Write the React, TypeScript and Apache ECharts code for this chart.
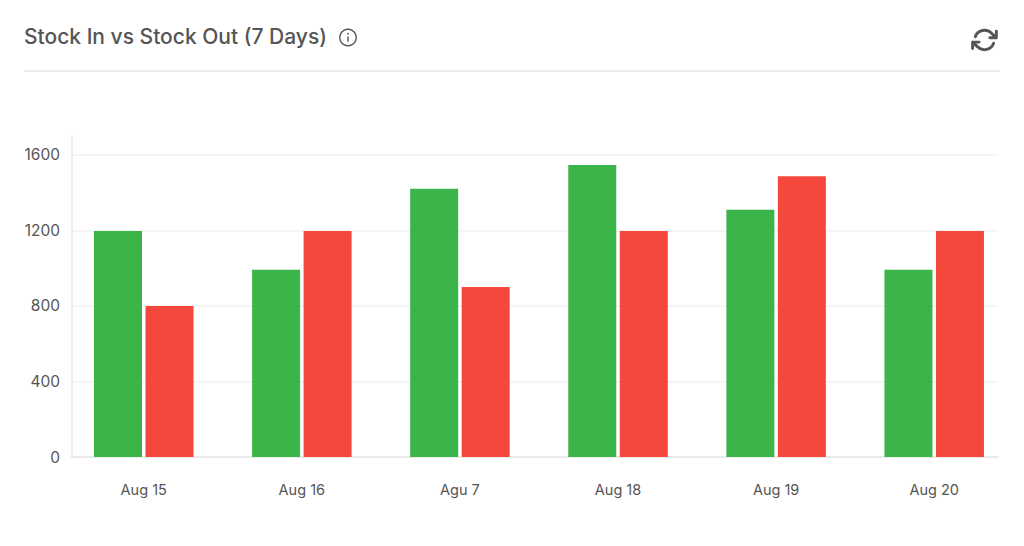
import React, { useEffect, useRef } from "react";
import * as echarts from "echarts";

const categories = ["Aug 15", "Aug 16", "Agu 7", "Aug 18", "Aug 19", "Aug 20"];
const stockIn = [1197, 992, 1420, 1547, 1310, 992];
const stockOut = [800, 1197, 900, 1197, 1487, 1197];
const yTicks = [0, 400, 800, 1200, 1600];
const titleText = "Stock In vs Stock Out (7 Days)";

const FONT = "Inter, 'Noto Sans', sans-serif";

echarts.graphic.registerShape(
  "refreshIcon",
  echarts.graphic.extendPath(
    "M23 4v6h-6M1 20v-6h6M3.51 9a9 9 0 0 1 14.85-3.36L23 10M1 14l4.64 4.36A9 9 0 0 0 20.49 15",
    {}
  )
);

export default function App() {
  const ref = useRef<HTMLDivElement>(null);
  useEffect(() => {
    document.body.style.margin = "0";
    document.body.style.background = "#fff";
    const chart = echarts.init(ref.current!, undefined, { renderer: "svg" });
    chart.setOption({
      animation: false,
      backgroundColor: "#ffffff",
      title: {
        text: titleText,
        left: 19,
        top: 21,
        textStyle: { fontFamily: FONT, fontSize: 21, fontWeight: 500, color: "#555555" },
      },
      grid: [
        { left: 72, right: 26, top: 136, height: 321 },
        { left: 64.7, right: 10.75, top: 136, height: 321 },
      ],
      xAxis: [
        {
          gridIndex: 0,
          type: "category",
          data: categories,
          axisLine: { show: true, lineStyle: { color: "#e6e6e6", width: 1.5 } },
          axisTick: { show: false },
          axisLabel: { show: false },
        },
        {
          gridIndex: 1,
          type: "category",
          data: categories,
          axisLine: { show: false },
          axisTick: { show: false },
          axisLabel: { margin: 25, fontFamily: FONT, fontSize: 14.5, color: "#555555" },
        },
      ],
      yAxis: [
        {
          gridIndex: 0,
          type: "value",
          min: 0,
          max: 1700,
          interval: yTicks[1] - yTicks[0],
          axisLine: { show: true, lineStyle: { color: "#e6e6e6", width: 1.5 } },
          axisTick: { show: false },
          splitLine: { show: true, showMaxLine: false, lineStyle: { color: "#f2f2f2", width: 1.5 } },
          axisLabel: {
            showMaxLabel: false,
            margin: 12,
            fontFamily: FONT,
            fontSize: 15.5,
            color: "#555555",
            formatter: (v: number) => String(v),
          },
        },
        {
          gridIndex: 1,
          type: "value",
          min: 0,
          max: 1700,
          interval: yTicks[1] - yTicks[0],
          show: false,
          splitLine: { show: false },
        },
      ],
      series: [
        {
          name: "Stock In",
          type: "bar",
          xAxisIndex: 1,
          yAxisIndex: 1,
          data: stockIn,
          barWidth: 48,
          barGap: "7.3%",
          itemStyle: { color: "#3bb54a" },
        },
        {
          name: "Stock Out",
          type: "bar",
          xAxisIndex: 1,
          yAxisIndex: 1,
          data: stockOut,
          barWidth: 48,
          barGap: "7.3%",
          itemStyle: { color: "#f4483c" },
        },
      ],
      graphic: [
        {
          type: "line",
          shape: { x1: 24, y1: 71, x2: 1000, y2: 71 },
          style: { stroke: "#e6e6e6", lineWidth: 1.5 },
        },
        {
          type: "circle",
          shape: { cx: 348, cy: 37.5, r: 8.2 },
          style: { fill: "none", stroke: "#555555", lineWidth: 1.4 },
        },
        {
          type: "circle",
          shape: { cx: 348, cy: 33.8, r: 0.9 },
          style: { fill: "#555555" },
        },
        {
          type: "line",
          shape: { x1: 348, y1: 36.5, x2: 348, y2: 41.8 },
          style: { stroke: "#555555", lineWidth: 1.4 },
        },
        {
          type: "refreshIcon",
          x: 971.5,
          y: 27,
          scaleX: 1.08,
          scaleY: 1.08,
          style: { fill: "none", stroke: "#555555", lineWidth: 2.7, lineCap: "round", lineJoin: "round" },
        },
      ],
    });
    return () => chart.dispose();
  }, []);
  return <div ref={ref} style={{ width: 1024, height: 546 }} />;
}
